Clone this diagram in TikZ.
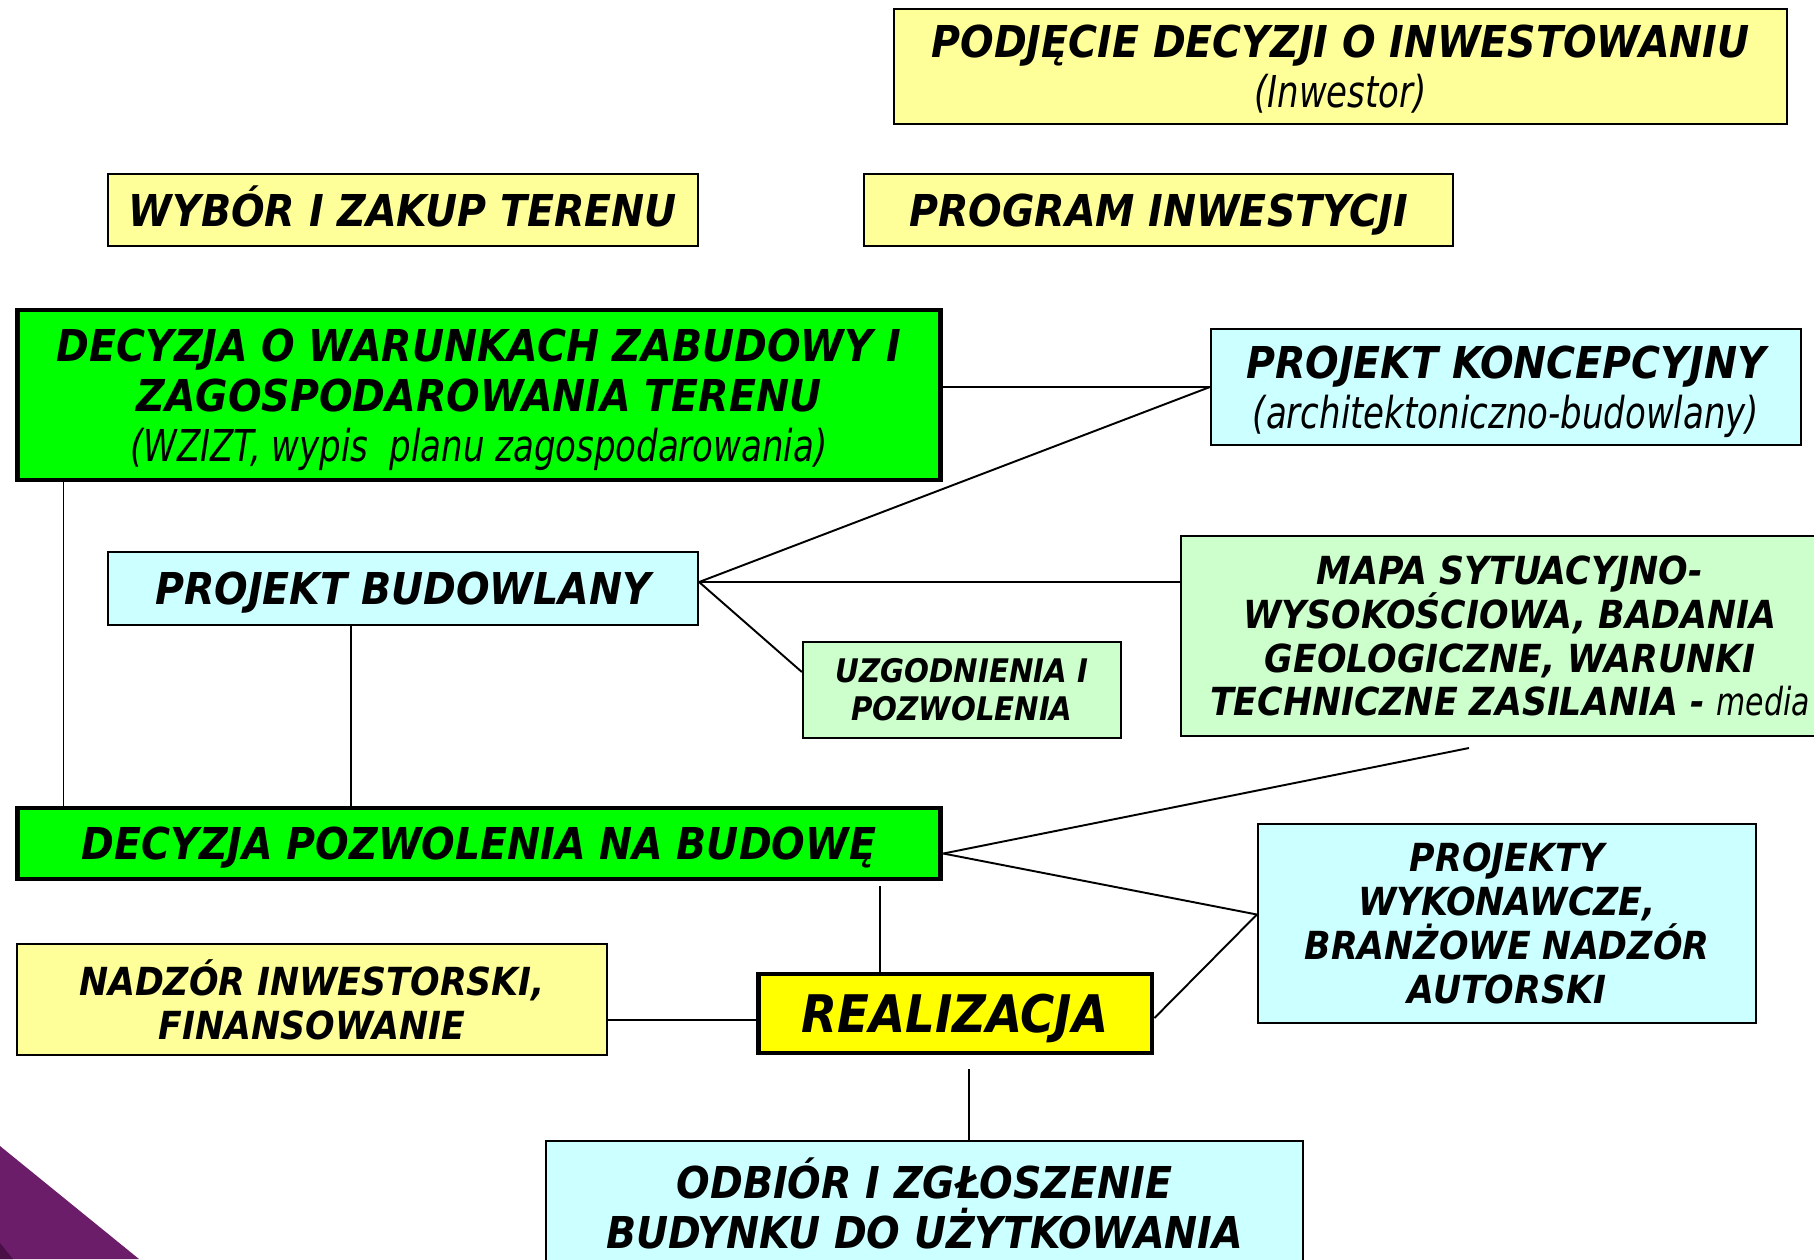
\documentclass[tikz,border=0pt]{standalone}
\usepackage{fontspec}
\setmainfont{DejaVu Sans Condensed}
\newfontfamily\narrowface{DejaVu Sans Condensed}[FakeStretch=0.86]
\usetikzlibrary{calc}
\definecolor{paleyellow}{HTML}{FFFF99}
\definecolor{brightyellow}{HTML}{FFFF00}
\definecolor{brightgreen}{HTML}{00FF00}
\definecolor{palecyan}{HTML}{CCFFFF}
\definecolor{palegreen}{HTML}{CCFFCC}
\definecolor{plum}{HTML}{6C1D69}
\definecolor{darkplum}{HTML}{4A0F47}
\tikzset{
  box/.style={draw=black, line width=1.3pt, align=center, inner sep=0pt,
    font=\fontsize{25}{28.5}\selectfont\bfseries\itshape},
  heavybox/.style={box, line width=2.8pt},
  oneline/.style={text height=18.2pt, text depth=0pt},
  midtext/.style={font=\fontsize{22}{25}\selectfont\bfseries\itshape},
  smalltext/.style={font=\fontsize{18.5}{21.6}\selectfont\bfseries\itshape},
  link/.style={line width=1.1pt},
  thinlink/.style={line width=0.7pt},
}
\newcommand{\sub}[1]{{\narrowface\mdseries\itshape #1}}
\begin{document}
\begin{tikzpicture}[x=0.02cm,y=-0.02cm]
\useasboundingbox (0,0) rectangle (1814,1259);
\clip (0,0) rectangle (1814,1259);

% corner decoration
\fill[plum] (0,1146) -- (139,1259) -- (0,1259) -- cycle;
\fill[darkplum] (0,1243) -- (13,1259) -- (0,1259) -- cycle;

% boxes
\node[box, fill=paleyellow, minimum width=17.86cm, minimum height=2.30cm, text depth=0pt] (decision) at (1340.5,66.5)
  {PODJĘCIE DECYZJI O INWESTOWANIU\\ \sub{(Inwestor)}};
\node[box, oneline, fill=paleyellow, minimum width=11.8cm, minimum height=1.44cm] (site) at (403,210)
  {WYBÓR I ZAKUP TERENU};
\node[box, oneline, fill=paleyellow, minimum width=11.78cm, minimum height=1.44cm] (program) at (1158.5,210)
  {PROGRAM INWESTYCJI};
\node[heavybox, fill=brightgreen, minimum width=18.48cm, minimum height=3.4cm, text depth=0pt] (wz) at (479,395)
  {DECYZJA O WARUNKACH ZABUDOWY I\\ ZAGOSPODAROWANIA TERENU\\ \sub{(WZIZT, wypis\ \ planu zagospodarowania)}};
\node[box, fill=palecyan, minimum width=11.8cm, minimum height=2.32cm, text depth=0pt] (concept) at (1506,387)
  {PROJEKT KONCEPCYJNY\\ \sub{(architektoniczno-budowlany)}};
\node[box, oneline, fill=palecyan, minimum width=11.8cm, minimum height=1.46cm] (pb) at (403,588.5)
  {PROJEKT BUDOWLANY};
\node[box, midtext, fill=palegreen, minimum width=13.16cm, minimum height=4.0cm] (map) at (1510,636)
  {MAPA SYTUACYJNO-\\ WYSOKOŚCIOWA, BADANIA\\ GEOLOGICZNE, WARUNKI\\ TECHNICZNE ZASILANIA - \sub{media}};
\node[box, smalltext, fill=palegreen, minimum width=6.36cm, minimum height=1.92cm] (agree) at (962,690)
  {UZGODNIENIA I\\ POZWOLENIA};
\node[heavybox, oneline, fill=brightgreen, minimum width=18.48cm, minimum height=1.42cm] (permit) at (479,843.5)
  {DECYZJA POZWOLENIA NA BUDOWĘ};
\node[box, midtext, fill=palecyan, minimum width=9.96cm, minimum height=3.98cm] (exec) at (1507,923.5)
  {PROJEKTY\\ WYKONAWCZE,\\ BRANŻOWE NADZÓR\\ AUTORSKI};
\node[box, midtext, fill=paleyellow, minimum width=11.8cm, minimum height=2.22cm] (super) at (312,999.5)
  {NADZÓR INWESTORSKI,\\ FINANSOWANIE};
\node[heavybox, fill=brightyellow, minimum width=7.88cm, minimum height=1.58cm,
  text height=21.5pt, text depth=0pt,
  font=\fontsize{29.5}{33}\selectfont\bfseries\itshape] (real) at (955,1013.5)
  {REALIZACJA};
\node[box, fill=palecyan, minimum width=15.14cm, minimum height=2.48cm] (handover) at (924.5,1203)
  {ODBIÓR I ZGŁOSZENIE\\ BUDYNKU DO UŻYTKOWANIA};

% connection points
\coordinate (pbR) at ([yshift=0.13cm]pb.east);
\coordinate (permitR) at ([yshift=-0.2cm]permit.east);
\coordinate (execL) at ([yshift=0.18cm]exec.west);
\coordinate (mapEnd) at (1469,748);

% connectors
\draw[link] (concept.west -| wz.east) -- (concept.west);
\draw[link] (pbR) -- (concept.west);
\draw[link] (pbR) -- (pbR -| map.west);
\draw[link] (pbR) -- ([yshift=0.36cm]agree.west);
\draw[thinlink] ([xshift=0.97cm]wz.south west) -- ([xshift=0.97cm]wz.south west |- permit.north);
\draw[thinlink] ([xshift=-1.04cm]pb.south) -- ([xshift=-1.04cm]pb.south |- permit.north);
\draw[link] (permitR) -- (mapEnd);
\draw[link] (permitR) -- (execL);
\draw[thinlink] ([xshift=-1.5cm,yshift=-0.1cm]real.north |- permit.south) -- ([xshift=-1.5cm]real.north);
\draw[link] ([yshift=-0.13cm]super.east |- real.west) -- ([yshift=-0.13cm]real.west);
\draw[link] ([yshift=-0.09cm]real.east) -- (execL);
\draw[thinlink] ([xshift=0.28cm,yshift=-0.28cm]real.south) -- ([xshift=0.28cm]real.south |- handover.north);
\end{tikzpicture}
\end{document}
